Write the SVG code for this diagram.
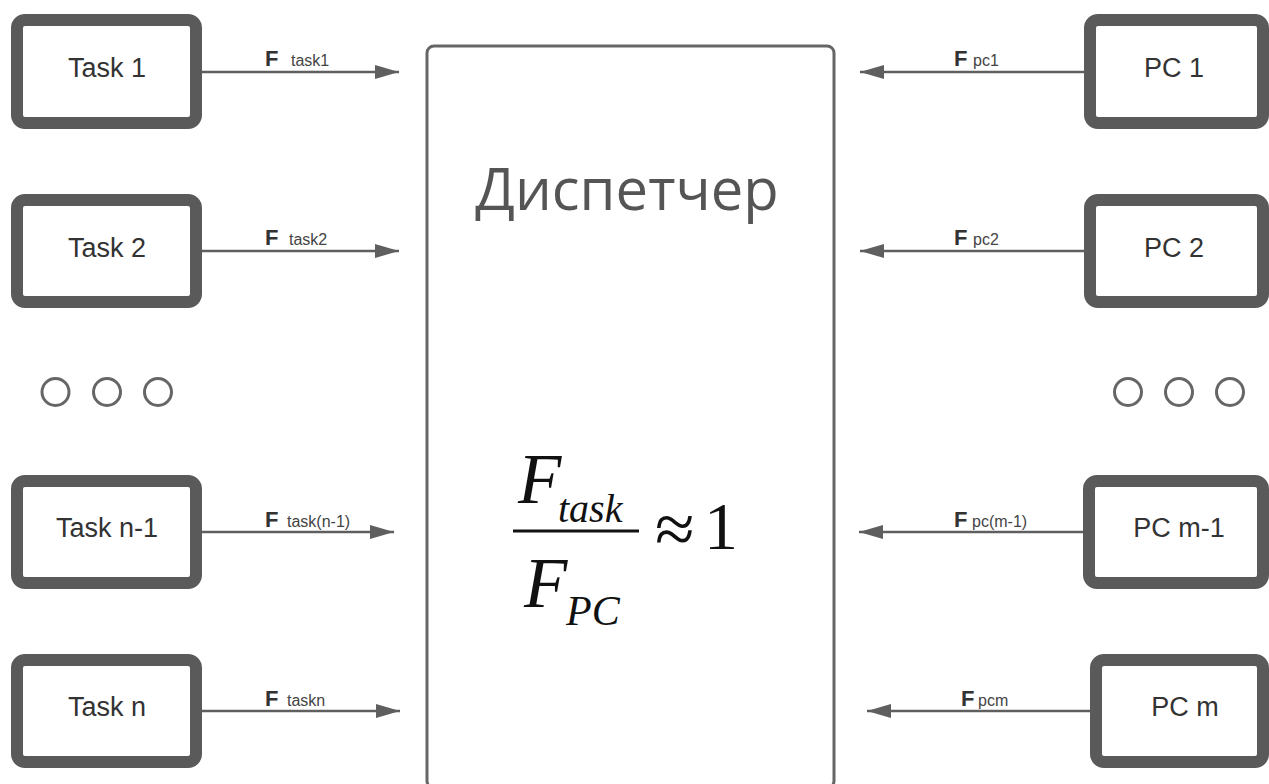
<svg xmlns="http://www.w3.org/2000/svg" width="1269" height="784" viewBox="0 0 1269 784">
<defs>
<marker id="ah" markerUnits="userSpaceOnUse" markerWidth="24" markerHeight="14" viewBox="0 0 24 14" refX="24" refY="7" orient="auto">
<path d="M0,0 L24,7 L0,14 z" fill="#5f5f5f"/>
</marker>
<style>
.box{fill:#fff;stroke:#5a5a5a;stroke-width:12}
.lbl{font-family:"Liberation Sans",Arial,sans-serif;font-size:27px;fill:#333;text-anchor:middle}
.conn{stroke:#5f5f5f;stroke-width:2.5;fill:none;marker-end:url(#ah)}
.fb{font-family:"Liberation Sans",Arial,sans-serif;font-size:22px;font-weight:bold;fill:#333}
.fs{font-family:"Liberation Sans",Arial,sans-serif;font-size:16px;fill:#444}
.dot{fill:none;stroke:#666;stroke-width:3}
.math{font-family:"Liberation Serif","Times New Roman",serif;fill:#111}
</style>
</defs>
<rect width="1269" height="784" fill="#fff"/>

<g id="dispatcher">
<rect x="427" y="46" width="407" height="742" rx="7" fill="#fff" stroke="#666" stroke-width="3"/>
<text x="627" y="210" font-family="'Open Sans','Noto Sans',sans-serif" font-size="58" fill="#555" text-anchor="middle">Диспетчер</text>
<g class="math">
<text x="518" y="503" font-size="71" font-style="italic">F</text>
<text x="558" y="522" font-size="40" font-style="italic">task</text>
<line x1="513" y1="531" x2="639" y2="531" stroke="#111" stroke-width="3"/>
<text x="655" y="553" font-size="72">≈</text>
<text x="704" y="549" font-size="68">1</text>
<text x="524" y="607" font-size="71" font-style="italic">F</text>
<text x="566" y="625" font-size="42" font-style="italic">PC</text>
</g>
</g>

<g id="task1"><rect class="box" x="17" y="20" width="179" height="103" rx="8"/><text class="lbl" x="107" y="77">Task 1</text></g>
<g id="task2"><rect class="box" x="17" y="200" width="179" height="102" rx="8"/><text class="lbl" x="107" y="257">Task 2</text></g>
<g id="taskn1"><rect class="box" x="17" y="481" width="179" height="102" rx="8"/><text class="lbl" x="107" y="537">Task n-1</text></g>
<g id="taskn"><rect class="box" x="17" y="660" width="179" height="102" rx="8"/><text class="lbl" x="107" y="716">Task n</text></g>

<g id="pc1"><rect class="box" x="1090" y="20" width="173" height="103" rx="8"/><text class="lbl" x="1174" y="77">PC 1</text></g>
<g id="pc2"><rect class="box" x="1090" y="200" width="173" height="102" rx="8"/><text class="lbl" x="1174" y="257">PC 2</text></g>
<g id="pcm1"><rect class="box" x="1089" y="481" width="174" height="102" rx="8"/><text class="lbl" x="1179" y="537">PC m-1</text></g>
<g id="pcm"><rect class="box" x="1096" y="660" width="167" height="102" rx="8"/><text class="lbl" x="1185" y="716">PC m</text></g>

<g id="dots-left">
<circle class="dot" cx="55.5" cy="392" r="13.5"/>
<circle class="dot" cx="107" cy="392" r="13.5"/>
<circle class="dot" cx="158" cy="392" r="13.5"/>
</g>
<g id="dots-right">
<circle class="dot" cx="1128" cy="392" r="13.5"/>
<circle class="dot" cx="1179" cy="392" r="13.5"/>
<circle class="dot" cx="1230" cy="392" r="13.5"/>
</g>

<g id="connectors">
<line class="conn" x1="202" y1="72" x2="399" y2="72"/>
<line class="conn" x1="202" y1="251" x2="399" y2="251"/>
<line class="conn" x1="202" y1="532" x2="394" y2="532"/>
<line class="conn" x1="202" y1="711" x2="400" y2="711"/>
<line class="conn" x1="1084" y1="72" x2="860" y2="72"/>
<line class="conn" x1="1084" y1="251" x2="860" y2="251"/>
<line class="conn" x1="1083" y1="532" x2="859" y2="532"/>
<line class="conn" x1="1090" y1="711" x2="867" y2="711"/>
<text class="fb" x="265" y="66">F</text><text class="fs" x="291" y="66">task1</text>
<text class="fb" x="265" y="245">F</text><text class="fs" x="289" y="245">task2</text>
<text class="fb" x="265" y="527">F</text><text class="fs" x="287" y="527">task(n-1)</text>
<text class="fb" x="265" y="706">F</text><text class="fs" x="287" y="706">taskn</text>
<text class="fb" x="954" y="66">F</text><text class="fs" x="973" y="66">pc1</text>
<text class="fb" x="954" y="245">F</text><text class="fs" x="973" y="245">pc2</text>
<text class="fb" x="954" y="527">F</text><text class="fs" x="972" y="527">pc(m-1)</text>
<text class="fb" x="961" y="706">F</text><text class="fs" x="978" y="706">pcm</text>
</g>
</svg>
